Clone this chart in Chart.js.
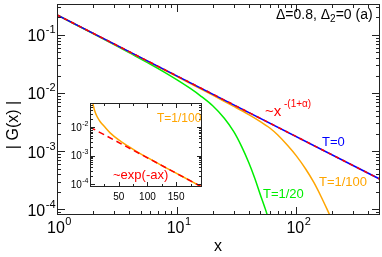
<!DOCTYPE html>
<html>
<head>
<meta charset="utf-8">
<script src="https://cdn.jsdelivr.net/npm/chart.js@4.4.0/dist/chart.umd.min.js"></script>
<style>
  body { margin: 0; background: #fff; }
  #wrap { position: relative; width: 382px; height: 257px; }
  canvas { position: absolute; }
</style>
</head>
<body>
<div id="wrap">
  <canvas id="mainChart" width="382" height="257" style="left:0;top:0"></canvas>
  <canvas id="insetChart" width="150" height="110" style="left:58px;top:98px"></canvas>
</div>
<script>
// main panel data
const xT0 = [1, 500];
const yT0 = [0.221, 3.3e-4];
const xPow = [1, 500];
const yPow = [0.221, 3.3e-4];
const xT20 = [1, 2, 3, 4, 6, 8, 10, 13, 16, 20, 25, 30, 35, 40, 45, 50, 55, 58, 60];
const yT20 = [0.221, 0.105, 0.068, 0.0495, 0.0316, 0.0225, 0.017, 0.012, 8.8e-3, 6.05e-3, 3.7e-3, 2.17e-3, 1.19e-3, 6.4e-4, 3.4e-4, 1.79e-4, 1.02e-4, 7.2e-5, 5.5e-5];
const xT100 = [1, 5, 10, 20, 30, 40, 50, 60, 70, 85, 100, 120, 140, 160, 180, 193, 205];
const yT100 = [0.221, 0.0405, 0.0193, 9.2e-3, 5.9e-3, 4.27e-3, 3.24e-3, 2.51e-3, 1.9e-3, 1.24e-3, 8.3e-4, 4.9e-4, 2.9e-4, 1.7e-4, 1.02e-4, 7.4e-5, 5.5e-5];

// inset data
const xIn100 = [4, 5, 8, 12, 17.5, 25, 35, 50, 65, 80, 100, 130, 160, 195];
const yIn100 = [0.09, 0.068, 0.038, 0.024, 0.0158, 0.0105, 6.3e-3, 3.55e-3, 2.24e-3, 1.45e-3, 8.5e-4, 4.0e-4, 1.9e-4, 7.9e-5];
const xInExp = [0, 195];
const yInExp = [1e-2, 8e-5];

const xMajor = [1, 10, 100];
const yMajor = [1e-4, 1e-3, 1e-2, 1e-1];
const inXMajor = [50, 100, 150];
const inYMajor = [1e-4, 1e-3, 1e-2];

const FONT = '"Liberation Sans", Arial, sans-serif';

function pts(xs, ys) {
  return xs.map((x, i) => ({ x: x, y: ys[i] }));
}

function logMinors(lo, hi) {
  const out = [];
  for (let d = Math.floor(Math.log10(lo)); d <= Math.ceil(Math.log10(hi)); d++) {
    for (let k = 2; k <= 9; k++) {
      const v = k * Math.pow(10, d);
      if (v > lo && v < hi) out.push(v);
    }
  }
  return out;
}

// "10" with a raised exponent
function drawPow(ctx, exp, x, y, align, size) {
  const small = Math.round(size * 0.68);
  ctx.font = size + 'px ' + FONT;
  const wb = ctx.measureText('10').width;
  ctx.font = small + 'px ' + FONT;
  const we = ctx.measureText(exp).width;
  let sx = x;
  if (align === 'right') sx = x - wb - we;
  if (align === 'center') sx = x - (wb + we) / 2;
  ctx.textAlign = 'left';
  ctx.textBaseline = 'middle';
  ctx.font = size + 'px ' + FONT;
  ctx.fillText('10', sx, y);
  ctx.font = small + 'px ' + FONT;
  ctx.fillText(exp, sx + wb + 0.5, y - size * 0.42);
}

function drawTicks(ctx, area, xs, ys, xScale, yScale, len) {
  ctx.beginPath();
  xs.forEach(v => {
    const px = Math.round(xScale.getPixelForValue(v)) + 0.5;
    ctx.moveTo(px, area.bottom); ctx.lineTo(px, area.bottom - len);
    ctx.moveTo(px, area.top); ctx.lineTo(px, area.top + len);
  });
  ys.forEach(v => {
    const py = Math.round(yScale.getPixelForValue(v)) + 0.5;
    ctx.moveTo(area.left, py); ctx.lineTo(area.left + len, py);
    ctx.moveTo(area.right, py); ctx.lineTo(area.right - len, py);
  });
  ctx.stroke();
}

const mainFrame = {
  id: 'mainFrame',
  afterDraw(chart) {
    const ctx = chart.ctx;
    const a = chart.chartArea;
    const xs = chart.scales.x, ys = chart.scales.y;
    ctx.save();
    ctx.strokeStyle = '#222';
    ctx.lineWidth = 1;
    ctx.strokeRect(a.left + 0.5, a.top + 0.5, a.right - a.left - 1, a.bottom - a.top - 1);
    drawTicks(ctx, a, xMajor, yMajor, xs, ys, 8);
    drawTicks(ctx, a, logMinors(xs.min, xs.max), logMinors(ys.min, ys.max), xs, ys, 4);

    ctx.fillStyle = '#000';
    xMajor.forEach((v, i) => drawPow(ctx, String(i), xs.getPixelForValue(v) + 2, 229, 'center', 16));
    yMajor.forEach(v => drawPow(ctx, '-' + Math.round(-Math.log10(v)), 55, ys.getPixelForValue(v) + 2, 'right', 16));

    ctx.font = '16px ' + FONT;
    ctx.textAlign = 'center';
    ctx.textBaseline = 'middle';
    ctx.fillText('x', 218, 247);
    ctx.save();
    ctx.translate(14, 125);
    ctx.rotate(-Math.PI / 2);
    ctx.fillText('| G(x) |', 0, 0);
    ctx.restore();

    // top-right parameters
    ctx.font = '14px ' + FONT;
    ctx.textAlign = 'left';
    let tx = 276;
    ctx.fillText('\u0394=0.8, \u0394', tx, 15);
    tx += ctx.measureText('\u0394=0.8, \u0394').width;
    ctx.font = '10px ' + FONT;
    ctx.fillText('2', tx, 19);
    tx += ctx.measureText('2').width;
    ctx.font = '14px ' + FONT;
    ctx.fillText('=0 (a)', tx, 15);

    // curve annotations
    ctx.fillStyle = '#ff0000';
    ctx.font = '15px ' + FONT;
    ctx.fillText('~x', 265, 112);
    ctx.font = '10px ' + FONT;
    ctx.fillText('-(1+\u03b1)', 284, 104);
    ctx.font = '13px ' + FONT;
    ctx.fillStyle = '#0000ff';
    ctx.fillText('T=0', 322, 142);
    ctx.fillStyle = '#ffa500';
    ctx.fillText('T=1/100', 319, 182);
    ctx.fillStyle = '#00ee00';
    ctx.fillText('T=1/20', 263, 194);
    ctx.restore();
  }
};

const insetFrame = {
  id: 'insetFrame',
  beforeDatasetsDraw(chart) {
    const a = chart.chartArea;
    chart.ctx.save();
    chart.ctx.fillStyle = '#fff';
    chart.ctx.fillRect(a.left, a.top, a.right - a.left, a.bottom - a.top);
    chart.ctx.restore();
  },
  afterDraw(chart) {
    const ctx = chart.ctx;
    const a = chart.chartArea;
    const xs = chart.scales.x, ys = chart.scales.y;
    ctx.save();
    ctx.strokeStyle = '#222';
    ctx.lineWidth = 1;
    ctx.strokeRect(a.left + 0.5, a.top + 0.5, a.right - a.left - 1, a.bottom - a.top - 1);
    drawTicks(ctx, a, inXMajor, inYMajor, xs, ys, 5);
    drawTicks(ctx, a, [25, 75, 125, 175], logMinors(ys.min, ys.max), xs, ys, 3);

    ctx.fillStyle = '#000';
    ctx.font = '10px ' + FONT;
    ctx.textAlign = 'center';
    ctx.textBaseline = 'middle';
    inXMajor.forEach(v => ctx.fillText(String(v), xs.getPixelForValue(v), a.bottom + 10));
    inYMajor.forEach(v => drawPow(ctx, '-' + Math.round(-Math.log10(v)), a.left - 2, ys.getPixelForValue(v) + 1, 'right', 10));

    ctx.textAlign = 'left';
    ctx.font = '12px ' + FONT;
    ctx.fillStyle = '#ffa500';
    ctx.fillText('T=1/100', 99, 21);
    ctx.fillStyle = '#ff0000';
    ctx.font = '13px ' + FONT;
    ctx.fillText('~exp(-ax)', 55, 77);
    ctx.restore();
  }
};

// Chart.js paints the first dataset on top
new Chart(document.getElementById('mainChart'), {
  type: 'scatter',
  data: {
    datasets: [
      { data: pts(xPow, yPow), borderColor: '#ff0000', borderDash: [4, 4] },
      { data: pts(xT0, yT0), borderColor: '#0000ff' },
      { data: pts(xT100, yT100), borderColor: '#ffa500' },
      { data: pts(xT20, yT20), borderColor: '#00ee00' }
    ].map(d => Object.assign(d, { showLine: true, pointRadius: 0, borderWidth: 1.5, tension: 0.3 }))
  },
  options: {
    responsive: false,
    animation: false,
    layout: { padding: { left: 57, right: 2, top: 4, bottom: 42 } },
    plugins: { legend: { display: false }, tooltip: { enabled: false } },
    scales: {
      x: { type: 'logarithmic', min: 1, max: 500, display: false },
      y: { type: 'logarithmic', min: 8e-5, max: 0.34, display: false }
    }
  },
  plugins: [mainFrame]
});

new Chart(document.getElementById('insetChart'), {
  type: 'scatter',
  data: {
    datasets: [
      { data: pts(xInExp, yInExp), borderColor: '#ff0000', borderWidth: 1.5, borderDash: [6, 4] },
      { data: pts(xIn100, yIn100), borderColor: '#ffa500', borderWidth: 1.5 }
    ].map(d => Object.assign(d, { showLine: true, pointRadius: 0, tension: 0.3 }))
  },
  options: {
    responsive: false,
    animation: false,
    layout: { padding: { left: 32, right: 6, top: 5, bottom: 21 } },
    plugins: { legend: { display: false }, tooltip: { enabled: false } },
    scales: {
      x: { type: 'linear', min: 0, max: 195, display: false },
      y: { type: 'logarithmic', min: 8e-5, max: 0.07, display: false }
    }
  },
  plugins: [insetFrame]
});
</script>
</body>
</html>
